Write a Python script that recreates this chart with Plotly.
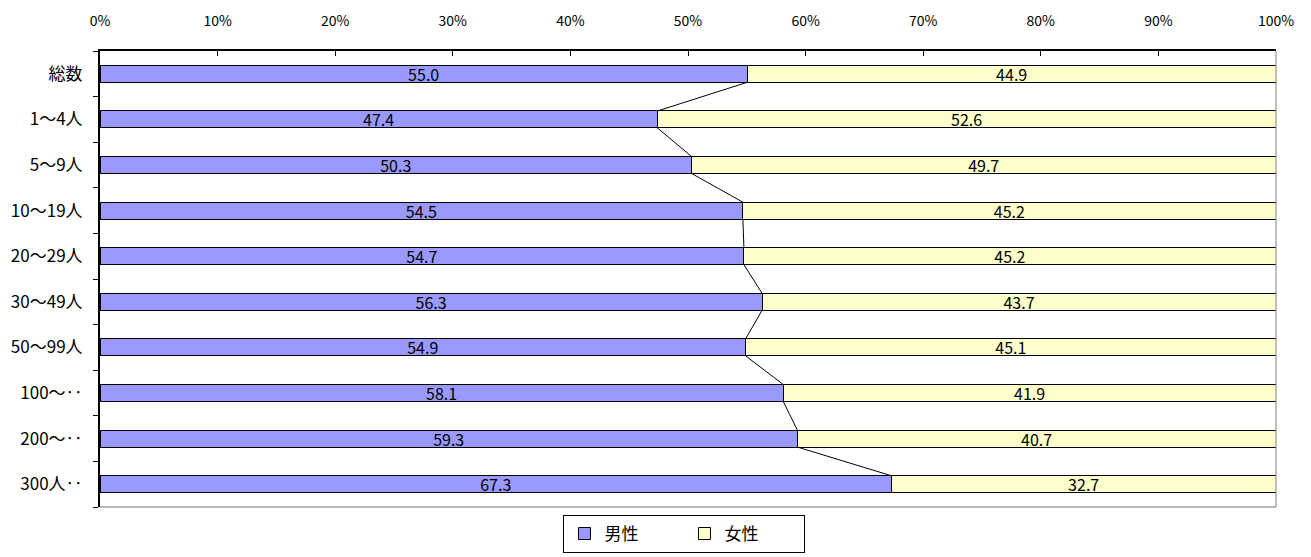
import plotly.graph_objects as go

categories = ["総数", "1～4人", "5～9人", "10～19人", "20～29人", "30～49人", "50～99人", "100～‥", "200～‥", "300人‥"]
male = [55.0, 47.4, 50.3, 54.5, 54.7, 56.3, 54.9, 58.1, 59.3, 67.3]
female = [44.9, 52.6, 49.7, 45.2, 45.2, 43.7, 45.1, 41.9, 40.7, 32.7]
x_ticks = [0, 10, 20, 30, 40, 50, 60, 70, 80, 90, 100]
x_tick_labels = [f"{v}%" for v in x_ticks]

FONT = "Noto Sans CJK JP"
W = 0.37
pos = list(range(len(categories)))

fig = go.Figure()
fig.add_trace(go.Bar(
    y=pos, x=male, orientation="h", name="男性",
    marker=dict(color="#9999FF", line=dict(color="black", width=1)),
    text=[f"{v:.1f}" for v in male], textposition="inside",
    insidetextanchor="middle", textfont=dict(size=16, color="black", family=FONT),
    width=W, hoverinfo="skip",
))
fig.add_trace(go.Bar(
    y=pos, x=female, orientation="h", name="女性",
    marker=dict(color="#FFFFCC", line=dict(color="black", width=1)),
    text=[f"{v:.1f}" for v in female], textposition="inside",
    insidetextanchor="middle", textfont=dict(size=16, color="black", family=FONT),
    width=W, hoverinfo="skip",
))

# series connector lines (Excel-style)
shares = [m / (m + f) * 100 for m, f in zip(male, female)]
lx, ly = [], []
for i in range(len(categories) - 1):
    lx += [shares[i], shares[i + 1], None]
    ly += [i + W / 2, i + 1 - W / 2, None]
fig.add_trace(go.Scatter(x=lx, y=ly, mode="lines", line=dict(color="black", width=1),
                         showlegend=False, hoverinfo="skip"))

fig.update_layout(
    barmode="stack", barnorm="percent",
    width=1303, height=549,
    margin=dict(l=92, r=35, t=43, b=50, autoexpand=False),
    paper_bgcolor="white", plot_bgcolor="white",
    font=dict(family=FONT, color="black", size=13),
    uniformtext=dict(minsize=16, mode="show"),
    showlegend=True,
    legend=dict(orientation="h", x=0.497, xanchor="center", y=-0.0175, yanchor="top",
                bordercolor="black", borderwidth=1, bgcolor="white",
                font=dict(size=17, family=FONT), entrywidth=75,
                itemwidth=30, traceorder="normal"),
    xaxis=dict(
        side="top", range=[0, 100], tickvals=x_ticks, ticktext=x_tick_labels,
        ticks="inside", ticklen=5, tickcolor="black", tickwidth=1,
        showline=True, linecolor="black", linewidth=2, mirror=False,
        showgrid=False, zeroline=False, ticklabelstandoff=17, automargin=False,
        tickfont=dict(size=14, family=FONT),
    ),
    yaxis=dict(
        range=[len(categories) - 0.5, -0.5], tickvals=pos, ticktext=categories,
        ticks="", showline=True, linecolor="black", linewidth=2,
        showgrid=False, zeroline=False, tickfont=dict(size=17, family=FONT),
        ticklabelstandoff=12, automargin=False,
        minor=dict(tickvals=[p - 0.5 for p in pos] + [len(categories) - 0.5],
                   ticks="outside", ticklen=5, tickcolor="black", tickwidth=1,
                   showgrid=False),
    ),
    shapes=[
        dict(type="line", xref="paper", yref="paper", x0=0, x1=1, y0=0, y1=0,
             line=dict(color="#A0A0A0", width=1.5)),
        dict(type="line", xref="paper", yref="paper", x0=1, x1=1, y0=0, y1=1,
             line=dict(color="#808080", width=1)),
    ],
)

fig.write_html("out.html")
